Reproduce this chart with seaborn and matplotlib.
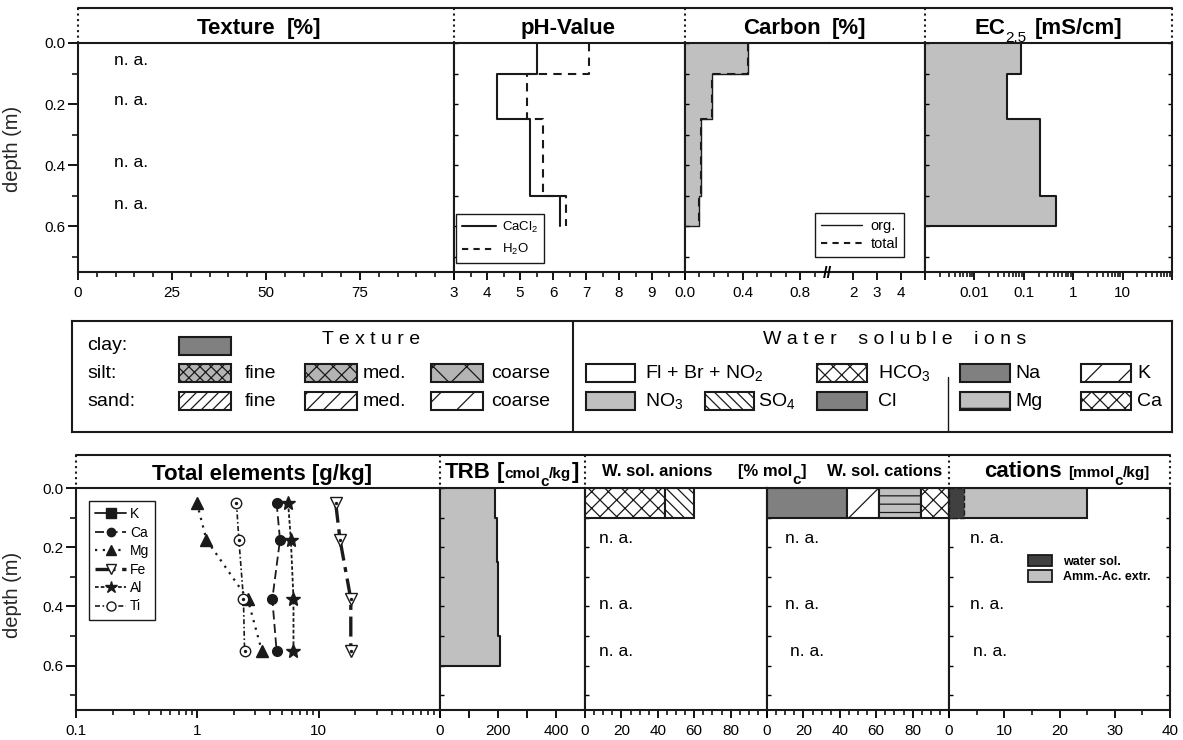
import numpy as np
import matplotlib
matplotlib.use("Agg")
import matplotlib.pyplot as plt
import seaborn as sns
from matplotlib.patches import Rectangle, Patch
from matplotlib.lines import Line2D
from matplotlib.ticker import FixedLocator, FixedFormatter, NullFormatter

# ---------------- data ----------------
layer_top = [0.0, 0.10, 0.25, 0.50]
layer_bottom = [0.10, 0.25, 0.50, 0.60]

ph_cacl2 = [5.5, 4.3, 5.3, 6.2]
ph_h2o = [7.1, 5.2, 5.7, 6.4]

c_org = [0.44, 0.19, 0.11, 0.10]
c_total = [0.44, 0.19, 0.11, 0.095]

ec_25 = [0.086, 0.046, 0.21, 0.45]

trb = [191, 196, 199, 206]

elem_depth = [0.05, 0.175, 0.375, 0.55]
elem_Ca = [4.5, 4.8, 4.15, 4.5]
elem_Mg = [0.99, 1.19, 2.6, 3.4]
elem_Fe = [13.8, 15.0, 18.4, 18.4]
elem_Al = [5.6, 5.9, 6.2, 6.2]
elem_Ti = [2.1, 2.2, 2.4, 2.45]

anion_names = ["HCO3", "SO4"]
anion_pct = [44, 16]
cation_names = ["Na", "K", "Mg", "Ca"]
cation_pct = [44, 17.5, 23.3, 15.2]

cat_water_sol = 2.7
cat_amm_ac = 25

texture_na_depth = [0.056, 0.187, 0.39, 0.53]
ions_na_depth = [0.172, 0.395, 0.552]

# ---------------- style ----------------
sns.set_theme(style="ticks")
plt.rcParams["font.family"] = ["Liberation Sans", "DejaVu Sans"]
plt.rcParams["mathtext.fontset"] = "custom"
plt.rcParams["mathtext.rm"] = "Liberation Sans"
plt.rcParams["mathtext.it"] = "Liberation Sans"
plt.rcParams["mathtext.bf"] = "Liberation Sans:bold"
plt.rcParams["hatch.linewidth"] = 0.9
plt.rcParams["axes.edgecolor"] = "black"
plt.rcParams["xtick.color"] = "black"
plt.rcParams["ytick.color"] = "black"
plt.rcParams["text.color"] = "black"

W, H = 1183, 740
fig = plt.figure(figsize=(W / 100, H / 100), dpi=100)
renderer = fig.canvas.get_renderer()

LGRAY = "#c0c0c0"
DGRAY = "#808080"


def px_axes(x0, y0, x1, y1):
    return fig.add_axes([x0 / W, 1 - y1 / H, (x1 - x0) / W, (y1 - y0) / H])


def setup(ax, xlim, majors, labels, minors, left_labels=False, right_ticks=False, log=False):
    if log:
        ax.set_xscale("log")
    ax.set_xlim(*xlim)
    ax.set_ylim(0.75, 0)
    ax.xaxis.set_major_locator(FixedLocator(majors))
    ax.xaxis.set_major_formatter(FixedFormatter(labels))
    ax.xaxis.set_minor_locator(FixedLocator(minors))
    ax.xaxis.set_minor_formatter(NullFormatter())
    ax.yaxis.set_major_locator(FixedLocator([0, 0.2, 0.4, 0.6]))
    ax.yaxis.set_minor_locator(FixedLocator([0.1, 0.3, 0.5, 0.7]))
    ax.tick_params(axis="x", which="major", direction="out", length=6, width=1.3,
                   labelsize=11, pad=4, bottom=True, top=False)
    ax.tick_params(axis="x", which="minor", direction="out", length=3.5, width=1.1,
                   bottom=True, top=False)
    if left_labels:
        ax.yaxis.set_major_formatter(FixedFormatter(["0.0", "0.2", "0.4", "0.6"]))
        ax.tick_params(axis="y", which="major", direction="out", length=7, width=1.3,
                       labelsize=11, pad=2, left=True)
        ax.tick_params(axis="y", which="minor", direction="out", length=4, width=1.1, left=True)
    else:
        ax.tick_params(axis="y", which="both", direction="in", length=3, width=1,
                       labelleft=False, left=True)
    if right_ticks:
        ax.tick_params(axis="y", which="both", right=True, labelright=False)
    for s in ax.spines.values():
        s.set_linewidth(1.5)
        s.set_color("k")
        s.set_visible(True)
    ax.set_xlabel("")
    ax.set_ylabel("")
    ax.grid(False)


def steps(vals):
    xs, ys = [], []
    for v, t, b in zip(vals, layer_top, layer_bottom):
        xs += [v, v]
        ys += [t, b]
    return xs, ys


def rich(x, y, pieces, align="center"):
    items = []
    cur = 0.0
    for s, size, weight, dy, gap in pieces:
        t = fig.text(0, 0, s, fontsize=size, fontweight=weight, va="baseline", ha="left")
        w = t.get_window_extent(renderer).width
        items.append((t, cur, dy))
        cur += w + gap
    x0 = x - cur / 2 if align == "center" else x
    for t, off, dy in items:
        t.set_position(((x0 + off) / W, 1 - (y + dy) / H))


def line(ax, xs, ys, **kw):
    sns.lineplot(x=xs, y=ys, sort=False, estimator=None, ax=ax, color="k", **kw)


# ================= TOP ROW =================
TOP0, TOP1 = 43, 272
ax_tex = px_axes(78, TOP0, 454, TOP1)
ax_ph = px_axes(454, TOP0, 685, TOP1)
ax_c1 = px_axes(685, TOP0, 829, TOP1)
ax_c2 = px_axes(829, TOP0, 925, TOP1)
ax_ec = px_axes(925, TOP0, 1172, TOP1)

# Texture
setup(ax_tex, (0, 100), [0, 25, 50, 75, 100], ["0", "25", "50", "75", ""],
      list(range(5, 100, 5)), left_labels=True)
for d in texture_na_depth:
    ax_tex.text(14, d, "n. a.", fontsize=12.5, ha="center", va="center")
ax_tex.set_ylabel("depth (m)", fontsize=14.5)
ax_tex.yaxis.set_label_coords((22 - 78) / (454 - 78), (272 - 149) / (272 - 43))

# pH
setup(ax_ph, (3, 10), list(range(3, 11)), ["3", "4", "5", "6", "7", "8", "9", ""],
      list(np.arange(3.5, 10, 1.0)))
xs, ys = steps(ph_cacl2)
line(ax_ph, xs, ys, lw=1.5)
xs, ys = steps(ph_h2o)
line(ax_ph, xs, ys, lw=1.5, linestyle=(0, (4, 3)))
ph_handles = [Line2D([], [], color="k", lw=1.5),
              Line2D([], [], color="k", lw=1.5, linestyle=(0, (3, 2.5)))]
leg = fig.legend(ph_handles, ["CaCl$_2$", "H$_2$O"], loc="upper left",
                 bbox_to_anchor=(456 / W, 1 - 214 / H), bbox_transform=fig.transFigure,
                 fontsize=9.5, frameon=True, fancybox=False, edgecolor="k", framealpha=1,
                 handlelength=2.6, borderpad=0.45, labelspacing=0.55, handletextpad=0.4,
                 borderaxespad=0)
leg.get_frame().set_linewidth(1.0)

# Carbon
setup(ax_c1, (0, 1.0), [0, 0.4, 0.8], ["0.0", "0.4", "0.8"],
      [0.1, 0.2, 0.3, 0.5, 0.6, 0.7, 0.9])
setup(ax_c2, (1, 5), [2, 3, 4], ["2", "3", "4"], [])
ax_c1.spines["right"].set_visible(False)
ax_c2.spines["left"].set_visible(False)
ax_c2.tick_params(axis="y", which="both", left=False, right=False)
xs, ys = steps(c_org)
ax_c1.fill_betweenx(ys, 0, xs, color=LGRAY, lw=0, zorder=0.5)
line(ax_c1, xs + [0], ys + [layer_bottom[-1]], lw=1.0)
xs, ys = steps(c_total)
line(ax_c1, xs, ys, lw=1.5, linestyle=(0, (4, 3)))
fig.text(827 / W, 1 - 273 / H, "//", fontsize=12, fontweight="bold", ha="center", va="center")
c_handles = [Line2D([], [], color="k", lw=1.0),
             Line2D([], [], color="k", lw=1.5, linestyle=(0, (3, 2.5)))]
leg = fig.legend(c_handles, ["org.", "total"], loc="upper left",
                 bbox_to_anchor=(815 / W, 1 - 213 / H), bbox_transform=fig.transFigure,
                 fontsize=10.5, frameon=True, fancybox=False, edgecolor="k", framealpha=1,
                 handlelength=2.8, borderpad=0.4, labelspacing=0.3, handletextpad=0.6,
                 borderaxespad=0)
leg.get_frame().set_linewidth(1.0)

# EC
ec_minor = [k * 10.0 ** e for e in range(-3, 2) for k in range(2, 10)]
setup(ax_ec, (0.001, 100), [0.001, 0.01, 0.1, 1, 10, 100], ["", "0.01", "0.1", "1", "10", ""],
      ec_minor, right_ticks=True, log=True)
xs, ys = steps(ec_25)
ax_ec.fill_betweenx(ys, 0.001, xs, color=LGRAY, lw=0, zorder=0.5)
line(ax_ec, xs + [0.001], ys + [layer_bottom[-1]], lw=1.5)

# top header
hdr = px_axes(78, 8, 1172, TOP0)
hdr.set_xlim(78, 1172)
hdr.set_ylim(TOP0, 8)
hdr.axis("off")
hdr.plot([78, 1172], [8, 8], color="k", lw=1.5, clip_on=False)
for xv in [78, 454, 685, 925, 1172]:
    hdr.plot([xv, xv], [8, TOP0], color="k", lw=1.5, ls=":", clip_on=False)
rich(259, 34, [("Texture", 16, "bold", 0, 11), ("[%]", 16, "bold", 0, 0)])
rich(568.5, 34, [("pH-Value", 16, "bold", 0, 0)])
rich(805, 34, [("Carbon", 16, "bold", 0, 11), ("[%]", 16, "bold", 0, 0)])
rich(1048.5, 34, [("EC", 16, "bold", 0, 0), ("2.5", 11, "normal", 8, 9),
                  ("[mS/cm]", 16, "bold", 0, 0)])

# ================= LEGEND BOX =================
lg = px_axes(72, 321, 1172, 432)
lg.set_xlim(72, 1172)
lg.set_ylim(432, 321)
lg.set_xticks([])
lg.set_yticks([])
for s in lg.spines.values():
    s.set_linewidth(1.5)
    s.set_color("k")
lg.plot([573, 573], [321, 432], color="k", lw=1.5)
lg.plot([948, 948], [377, 432], color="k", lw=1.0)

SW_H = 18
ROW0, ROW1, ROW2 = 346, 373, 401


def swatch(x0, x1, yc, fc, hatch=None):
    lg.add_patch(Rectangle((x0, yc - SW_H / 2), x1 - x0, SW_H, facecolor=fc,
                           edgecolor="k", lw=1.5, hatch=hatch))


def label(x, yc, s):
    lg.text(x, yc, s, fontsize=14, ha="left", va="center")


lg.text(371, 340, "T e x t u r e", fontsize=14, ha="center", va="center")
label(87, ROW0, "clay:")
label(87, ROW1, "silt:")
label(87, ROW2, "sand:")
swatch(179, 231, ROW0, DGRAY)
tex_cols = [(179, 231, 245, "fine", "xxx", "///"),
            (305, 357, 363, "med.", "xx", "//"),
            (431, 483, 491, "coarse", "x", "/")]
for x0, x1, xt, name, h_silt, h_sand in tex_cols:
    swatch(x0, x1, ROW1, "#b4b4b4", h_silt)
    swatch(x0, x1, ROW2, "white", h_sand)
    label(xt, ROW1, name)
    label(xt, ROW2, name)

lg.text(895, 340, "W a t e r    s o l u b l e    i o n s", fontsize=14, ha="center", va="center")
swatch(586, 635, ROW1, "white")
label(645, ROW1, "Fl + Br + NO$_2$")
swatch(586, 635, ROW2, LGRAY)
label(645, ROW2, "NO$_3$")
swatch(705, 754, ROW2, "white", "\\\\\\")
label(758, ROW2, "SO$_4$")
swatch(817, 867, ROW1, "white", "xx")
label(878, ROW1, "HCO$_3$")
swatch(817, 867, ROW2, DGRAY)
label(878, ROW2, "Cl")
swatch(960, 1010, ROW1, DGRAY)
label(1015, ROW1, "Na")
swatch(960, 1010, ROW2, LGRAY, "-")
label(1015, ROW2, "Mg")
swatch(1081, 1131, ROW1, "white", "/")
label(1137, ROW1, "K")
swatch(1081, 1131, ROW2, "white", "xx")
label(1137, ROW2, "Ca")

# ================= BOTTOM ROW =================
B0, B1 = 488, 710
ax_el = px_axes(76, B0, 440, B1)
ax_trb = px_axes(440, B0, 585, B1)
ax_an = px_axes(585, B0, 767, B1)
ax_ca = px_axes(767, B0, 949, B1)
ax_mm = px_axes(949, B0, 1170, B1)

el_minor = [k * 10.0 ** e for e in range(-1, 2) for k in range(2, 10)]
setup(ax_el, (0.1, 100), [0.1, 1, 10, 100], ["0.1", "1", "10", ""], el_minor,
      left_labels=True, log=True)
ax_el.set_ylabel("depth (m)", fontsize=14.5)
ax_el.yaxis.set_label_coords((22 - 76) / (440 - 76), (710 - 595) / (710 - 488))

elem_styles = [
    ("Ca", elem_Ca, dict(linestyle=(0, (5, 2.5)), lw=1.3, marker="o", markersize=7,
                         markerfacecolor="k")),
    ("Mg", elem_Mg, dict(linestyle=(0, (1, 2.5)), lw=1.6, marker="^", markersize=8,
                         markerfacecolor="k")),
    ("Fe", elem_Fe, dict(linestyle=(0, (6, 2, 1.5, 2)), lw=2.4, marker="v", markersize=8,
                         markerfacecolor="white")),
    ("Al", elem_Al, dict(linestyle=(0, (2, 1.2)), lw=1.3, marker="*", markersize=10,
                         markerfacecolor="k")),
    ("Ti", elem_Ti, dict(linestyle=(0, (3, 1.5, 1, 1.5)), lw=1.2, marker="o", markersize=7.5,
                         markerfacecolor="white")),
]
for name, vals, st in elem_styles:
    line(ax_el, vals, elem_depth, markeredgecolor="k", markeredgewidth=1.0, **st)
    if st["markerfacecolor"] == "white":
        ax_el.scatter(vals, elem_depth, s=2, color="k", zorder=5)

el_handles = [Line2D([], [], color="k", lw=1.3, marker="s", markersize=7, mfc="k", mec="k")]
el_labels = ["K"]
for name, vals, st in elem_styles:
    el_handles.append(Line2D([], [], color="k", lw=st["lw"],
                             linestyle=st["linestyle"], marker=st["marker"],
                             markersize=st["markersize"] - 1,
                             mfc=st["markerfacecolor"], mec="k"))
    el_labels.append(name)
leg = ax_el.legend(el_handles, el_labels, loc="upper left",
                   bbox_to_anchor=(89 / W, 1 - 501 / H), bbox_transform=fig.transFigure,
                   fontsize=10, frameon=True, fancybox=False, edgecolor="k", framealpha=1,
                   handlelength=2.2, borderpad=0.45, labelspacing=0.32, handletextpad=0.3,
                   borderaxespad=0)
leg.get_frame().set_linewidth(1.0)

# TRB
setup(ax_trb, (0, 500), [0, 100, 200, 300, 400], ["0", "", "200", "", "400"], [])
xs, ys = steps(trb)
ax_trb.fill_betweenx(ys, 0, xs, color=LGRAY, lw=0, zorder=0.5)
line(ax_trb, xs + [0], ys + [layer_bottom[-1]], lw=1.5)

# W. sol. anions
setup(ax_an, (0, 100), [0, 20, 40, 60, 80, 100], ["0", "20", "40", "60", "80", ""],
      list(range(5, 100, 10)) + [10, 30, 50, 70, 90])
an_hatch = {"HCO3": "xx", "SO4": "\\\\\\"}
an_left = np.concatenate([[0], np.cumsum(anion_pct)[:-1]])
for n, v, l in zip(anion_names, anion_pct, an_left):
    ax_an.barh(layer_top[0] + 0.05, v, left=l, height=0.1, color="white", edgecolor="k",
               lw=1.5, hatch=an_hatch[n], zorder=2)
for d in ions_na_depth:
    ax_an.text(17, d, "n. a.", fontsize=12.5, ha="center", va="center")

# W. sol. cations
setup(ax_ca, (0, 100), [0, 20, 40, 60, 80, 100], ["0", "20", "40", "60", "80", ""],
      list(range(5, 100, 10)) + [10, 30, 50, 70, 90])
ca_style = {"Na": (DGRAY, None), "K": ("white", "/"), "Mg": (LGRAY, "--"), "Ca": ("white", "xx")}
ca_left = np.concatenate([[0], np.cumsum(cation_pct)[:-1]])
for n, v, l in zip(cation_names, cation_pct, ca_left):
    fc, hh = ca_style[n]
    ax_ca.barh(layer_top[0] + 0.05, v, left=l, height=0.1, color=fc, edgecolor="k",
               lw=1.5, hatch=hh, zorder=2)
for d, xx in zip(ions_na_depth, [19, 19, 22]):
    ax_ca.text(xx, d, "n. a.", fontsize=12.5, ha="center", va="center")

# cations mmol
setup(ax_mm, (0, 40), [0, 10, 20, 30, 40], ["0", "10", "20", "30", "40"],
      [5, 15, 25, 35], right_ticks=True)
ax_mm.barh(layer_top[0] + 0.05, cat_amm_ac, left=0, height=0.1, color=LGRAY,
           edgecolor="k", lw=1.5, zorder=2)
ax_mm.barh(layer_top[0] + 0.05, cat_water_sol, left=0, height=0.1, color="#404040",
           edgecolor="k", lw=1.0, linestyle="--", zorder=3)
for d, xx in zip(ions_na_depth, [6.9, 6.9, 7.5]):
    ax_mm.text(xx, d, "n. a.", fontsize=12.5, ha="center", va="center")
mm_handles = [Patch(facecolor="#404040", edgecolor="k", lw=1.3),
              Patch(facecolor=LGRAY, edgecolor="k", lw=1.3)]
ax_mm.legend(mm_handles, ["water sol.", "Amm.-Ac. extr."], loc="upper left",
             bbox_to_anchor=(1028 / W, 1 - 555 / H), bbox_transform=fig.transFigure,
             prop={"weight": "bold", "size": 9}, frameon=False, handlelength=1.9,
             handleheight=1.0, labelspacing=0.2, borderpad=0, handletextpad=0.9,
             borderaxespad=0)

# bottom header
hdr2 = px_axes(76, 455, 1170, B0)
hdr2.set_xlim(76, 1170)
hdr2.set_ylim(B0, 455)
hdr2.axis("off")
hdr2.plot([76, 1170], [455, 455], color="k", lw=1.5, clip_on=False)
for xv in [76, 440, 585, 949, 1170]:
    hdr2.plot([xv, xv], [455, B0], color="k", lw=1.5, ls=":", clip_on=False)
rich(262, 480, [("Total elements [g/kg]", 16, "bold", 0, 0)])
rich(512, 478, [("TRB", 16, "bold", 0, 6), ("[", 16, "bold", 0, 1), ("cmol", 11, "bold", 0, 0),
                ("c", 11, "bold", 8, 0), ("/kg", 11, "bold", 0, 1), ("]", 16, "bold", 0, 0)])
rich(602, 476, [("W. sol. anions", 12, "bold", 0, 0)], align="left")
rich(738, 476, [("[% mol", 12, "bold", 0, 0), ("c", 11, "bold", 8, 0), ("]", 12, "bold", 0, 0)],
     align="left")
rich(827, 476, [("W. sol. cations", 12, "bold", 0, 0)], align="left")
rich(1067, 477, [("cations", 16, "bold", 0, 6), ("[mmol", 11, "bold", 0, 0),
                 ("c", 11, "bold", 8, 0), ("/kg]", 11, "bold", 0, 0)])

fig.savefig("out.png", dpi=100)
